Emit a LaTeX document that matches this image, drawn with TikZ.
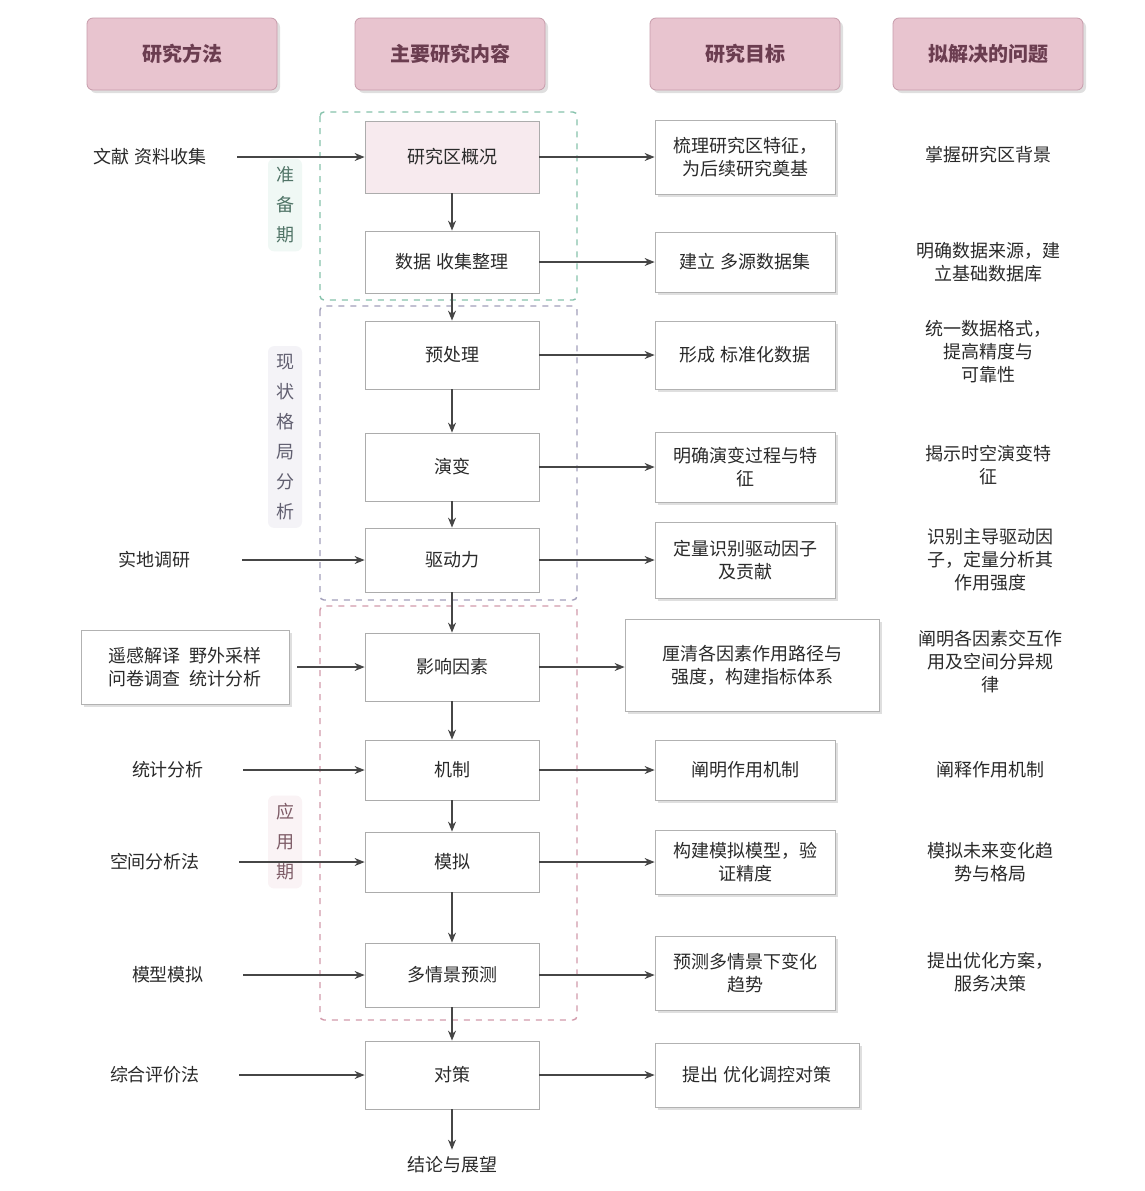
\documentclass[tikz,border=0pt]{standalone}
\usepackage{fontspec}
\setmainfont{Noto Sans CJK SC}
\usetikzlibrary{arrows.meta,shadows}
\definecolor{hdrfill}{HTML}{E8C4CF}
\definecolor{hdrdraw}{HTML}{C79CAB}
\definecolor{hdrtext}{HTML}{6B3D50}
\definecolor{frgreen}{HTML}{86C2AC}
\definecolor{frgrey}{HTML}{A29FBA}
\definecolor{frpink}{HTML}{D29AAB}
\definecolor{txt}{HTML}{2A2A2A}
\newcommand\myfs{\fontsize{9}{11.5}\selectfont}
\tikzset{
  hdr/.style={draw=hdrdraw, fill=hdrfill, rounded corners=3pt, minimum width=95pt, minimum height=36pt,
    font=\bfseries\fontsize{10}{12}\selectfont, text=hdrtext, drop shadow={opacity=0.25, shadow xshift=1.5pt, shadow yshift=-1.5pt}},
  cbox/.style={draw=gray!65, fill=white, minimum width=87pt, minimum height=31pt, align=center, font=\myfs, text=txt},
  rbox/.style={draw=gray!60, fill=white, minimum width=90pt, minimum height=31pt, align=center, font=\myfs, text=txt,
    drop shadow={opacity=0.25, shadow xshift=1.5pt, shadow yshift=-1.5pt}},
  ltxt/.style={align=center, font=\myfs, text=txt},
  vlab/.style={align=center, font=\fontsize{9}{15}\selectfont, rounded corners=3pt, inner sep=4pt},
  frame/.style={dashed, line width=0.7pt, rounded corners=2pt},
  arr/.style={-{Stealth[length=5pt,width=4pt]}, draw=gray!55!black, line width=0.6pt},
}
\begin{document}
\begin{tikzpicture}[x=0.5pt,y=-0.5pt]
\useasboundingbox[fill=white] (0,0) rectangle (1145,1191);

% headers
\node[hdr] (h1) at (182,54) {研究方法};
\node[hdr] (h2) at (450,54) {主要研究内容};
\node[hdr] (h3) at (745,54) {研究目标};
\node[hdr] (h4) at (988,54) {拟解决的问题};

% stage frames
\draw[frame, frgreen] (320,112) rectangle (577,300);
\draw[frame, frgrey] (320,306) rectangle (577,600);
\draw[frame, frpink] (320,606) rectangle (577,1020);

% stage labels
\node[vlab, fill=frgreen!12, text=frgreen!60!black] (s1) at (285,205) {准\\备\\期};
\node[vlab, fill=frgrey!12, text=frgrey!60!black] (s2) at (285,437) {现\\状\\格\\局\\分\\析};
\node[vlab, fill=frpink!12, text=frpink!60!black] (s3) at (285,842) {应\\用\\期};

% centre column
\node[cbox, fill=hdrfill!35, minimum height=36pt] (c1) at (452,157) {研究区概况};
\node[cbox] (c2) at (452,262) {数据\ 收集整理};
\node[cbox, minimum height=34pt] (c3) at (452,355) {预处理};
\node[cbox, minimum height=34pt] (c4) at (452,467) {演变};
\node[cbox, minimum height=32pt] (c5) at (452,560) {驱动力};
\node[cbox, minimum height=34pt] (c6) at (452,667) {影响因素};
\node[cbox, minimum height=30pt] (c7) at (452,770) {机制};
\node[cbox, minimum height=30pt] (c8) at (452,862) {模拟};
\node[cbox, minimum height=32pt] (c9) at (452,975) {多情景预测};
\node[cbox, minimum height=34pt] (c10) at (452,1075) {对策};
\node[ltxt] (c11) at (452,1165) {结论与展望};

% left column
\node[ltxt] (l1) at (150,157) {文献\ 资料收集};
\node[ltxt] (l2) at (155,560) {实地调研};
\node[draw=gray!60, fill=white, align=center, font=\myfs, text=txt, minimum width=104pt, minimum height=37pt,
  drop shadow={opacity=0.25, shadow xshift=1.5pt, shadow yshift=-1.5pt}] (l3) at (185,667) {遥感解译\ \ 野外采样\\问卷调查\ \ 统计分析};
\node[ltxt] (l4) at (168,770) {统计分析};
\node[ltxt] (l5) at (155,862) {空间分析法};
\node[ltxt] (l6) at (168,975) {模型模拟};
\node[ltxt] (l7) at (155,1075) {综合评价法};

% third column
\node[rbox, minimum height=37pt] (r1) at (745,157) {梳理研究区特征，\\为后续研究奠基};
\node[rbox, minimum height=30pt] (r2) at (745,262) {建立\ 多源数据集};
\node[rbox, minimum height=34pt] (r3) at (745,355) {形成\ 标准化数据};
\node[rbox, minimum height=35pt] (r4) at (745,467) {明确演变过程与特\\征};
\node[rbox, minimum height=38pt] (r5) at (745,560) {定量识别驱动因子\\及贡献};
\node[rbox, minimum width=127pt, minimum height=46pt] (r6) at (752,665) {厘清各因素作用路径与\\强度，构建指标体系};
\node[rbox, minimum height=30pt] (r7) at (745,770) {阐明作用机制};
\node[rbox, minimum height=32pt] (r8) at (745,862) {构建模拟模型，验\\证精度};
\node[rbox, minimum height=37pt] (r9) at (745,973) {预测多情景下变化\\趋势};
\node[rbox, minimum width=102pt, minimum height=32pt] (r10) at (757,1075) {提出\ 优化调控对策};

% fourth column
\node[ltxt] (q1) at (988,155) {掌握研究区背景};
\node[ltxt] (q2) at (988,262) {明确数据来源，建\\立基础数据库};
\node[ltxt] (q3) at (988,352) {统一数据格式，\\提高精度与\\可靠性};
\node[ltxt] (q4) at (988,465) {揭示时空演变特\\征};
\node[ltxt] (q5) at (990,560) {识别主导驱动因\\子，定量分析其\\作用强度};
\node[ltxt] (q6) at (990,662) {阐明各因素交互作\\用及空间分异规\\律};
\node[ltxt] (q7) at (990,770) {阐释作用机制};
\node[ltxt] (q8) at (990,862) {模拟未来变化趋\\势与格局};
\node[ltxt] (q9) at (990,972) {提出优化方案，\\服务决策};

% vertical flow
\foreach \a/\b in {c1/c2,c2/c3,c3/c4,c4/c5,c5/c6,c6/c7,c7/c8,c8/c9,c9/c10,c10/c11}
  \draw[arr] (\a.south) -- (\b.north);

% left to centre
\draw[arr, shorten <=12pt] (l1.east) -- (c1.west);
\draw[arr, shorten <=22pt] (l2.east) -- (c5.west);
\draw[arr, shorten <=4pt] (l3.east) -- (c6.west);
\draw[arr, shorten <=16pt] (l4.east) -- (c7.west);
\draw[arr, shorten <=16pt] (l5.east) -- (c8.west);
\draw[arr, shorten <=16pt] (l6.east) -- (c9.west);
\draw[arr, shorten <=16pt] (l7.east) -- (c10.west);

% centre to third column
\foreach \i in {1,...,10}
  \draw[arr] (c\i.east) -- (r\i.west |- c\i.east);
\end{tikzpicture}
\end{document}
